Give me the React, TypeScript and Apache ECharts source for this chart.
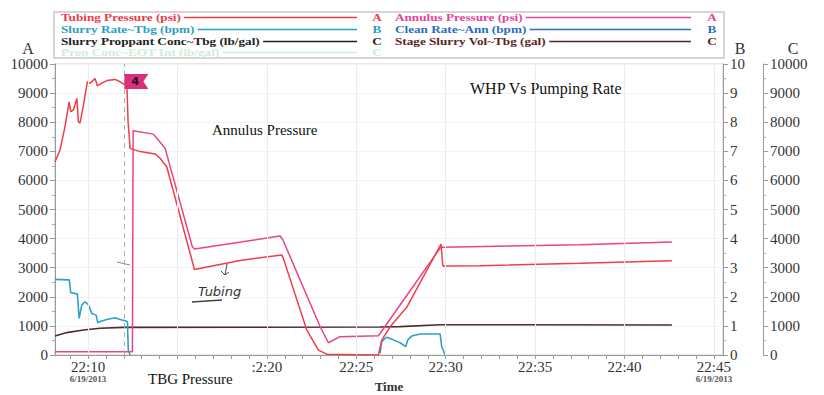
import React, { useEffect, useRef } from 'react';
import * as echarts from 'echarts';

const SERIF = '"Liberation Serif", "Times New Roman", serif';

// ---- axis / tick data ----
const xLabelMinutes = [10, 20, 25, 30, 35, 40, 45];
const xTickMinutes = [9, 10, 11, 12, 13, 14, 15, 16, 17, 18, 19, 20, 21, 22, 23, 24, 25, 26, 27, 28, 29, 30, 31, 32, 33, 34, 35, 36, 37, 38, 39, 40, 41, 42, 43, 44, 45];
const xGridMinutes = [10, 15, 20, 25, 30, 35, 40, 45];
const datedMinutes = [10, 45];
const dateLabel = '6/19/2013';
const stageMarkerMinute = 12.03;
const stageMarkerLabel = '4';

// ---- series data (minutes after 22:00) ----
const tubingTime = [8.15, 8.43, 8.71, 8.94, 9.03, 9.18, 9.37, 9.46, 9.55, 9.74, 9.96, 10.11, 10.26, 10.39, 10.52, 10.77, 11.05, 11.51, 11.79, 12.01, 12.16, 12.24, 12.35, 12.91, 13.75, 14.03, 14.40, 15.95, 18.5, 20.83, 20.92, 22.23, 22.88, 23.35, 26.24, 26.42, 26.89, 27.82, 29.74, 29.84, 31.92, 37.52, 42.65];
const tubingPsi = [6640, 7040, 7850, 8700, 8360, 8420, 8820, 8020, 7970, 8590, 9390, 9340, 9420, 9500, 9250, 9340, 9430, 9470, 9390, 9300, 9450, 8000, 7100, 6990, 6910, 6760, 6470, 2940, 3250, 3440, 3320, 860, 170, 30, 0, 500, 970, 1640, 3810, 3060, 3070, 3150, 3240];

const annulusTime = [8.15, 12.48, 12.52, 13.65, 13.93, 14.31, 15.83, 15.95, 20.74, 20.88, 22.98, 23.44, 24.09, 26.24, 29.74, 29.85, 37.52, 42.65];
const annulusPsi = [115, 115, 7710, 7590, 7390, 7100, 3720, 3640, 4090, 3980, 970, 420, 630, 663, 3720, 3700, 3790, 3880];

const slurryRateTime = [8.15, 8.95, 9.03, 9.40, 9.50, 9.65, 9.83, 10.02, 10.21, 10.45, 10.54, 10.67, 11.05, 11.51, 11.79, 12.07, 12.20, 12.25, 12.35, 20, 26.33, 26.42, 26.70, 27.07, 27.45, 27.77, 27.88, 28.10, 28.57, 29.69, 29.78, 29.97];
const slurryRateBpm = [2.60, 2.58, 2.14, 2.10, 1.26, 1.72, 1.83, 1.72, 1.43, 1.37, 1.11, 1.15, 1.22, 1.28, 1.22, 1.18, 1.14, 0.17, 0, null, 0.06, 0.46, 0.61, 0.52, 0.42, 0.29, 0.52, 0.65, 0.72, 0.72, 0.29, 0];

const stageVolTime = [8.15, 8.81, 9.74, 10.67, 11.97, 26.33, 27.45, 29.69, 42.65];
const stageVolGal = [650, 770, 860, 920, 950, 960, 975, 1040, 1030];

// ---- legend ----
const legendLeft = [
  { name: 'Tubing Pressure (psi)', color: '#ec3b47', axis: 'A' },
  { name: 'Slurry Rate~Tbg (bpm)', color: '#2b9fc3', axis: 'B' },
  { name: 'Slurry Proppant Conc~Tbg (lb/gal)', color: '#222222', axis: 'C' },
  { name: 'Prop Conc~EOT Int (lb/gal)', color: '#cdeed8', axis: 'C' },
];
const legendRight = [
  { name: 'Annulus Pressure (psi)', color: '#e8439a', axis: 'A' },
  { name: 'Clean Rate~Ann (bpm)', color: '#2a6ec1', axis: 'B' },
  { name: 'Stage Slurry Vol~Tbg (gal)', color: '#5b2424', axis: 'C' },
];

const zip = (t: number[], v: (number | null)[]) => t.map((x, i) => [x, v[i]]);

export default function App() {
  const ref = useRef<HTMLDivElement>(null);
  useEffect(() => {
    const chart = echarts.init(ref.current!, null, { renderer: 'svg' });
    const ctx = document.createElement('canvas').getContext('2d')!;
    const legendSize = 11;
    const legendScale = 1.2;
    const legendFont = `bold ${legendSize}px ${SERIF}`;
    ctx.font = legendFont;
    const rowsY = [17.5, 29.5, 41.5, 52.5];
    const legendEls: any[] = [
      { type: 'rect', shape: { x: 54, y: 12, width: 670, height: 46 }, style: { fill: '#fff', stroke: '#c8c8c8', lineWidth: 1.5 }, z: 10 },
    ];
    const addCol = (items: any[], x0: number, lineEnd: number, letterX: number) => {
      items.forEach((it, i) => {
        const y = rowsY[i];
        const w = ctx.measureText(it.name).width * legendScale;
        legendEls.push({
          type: 'text', z: 11, x: x0, y, scaleX: legendScale,
          style: { text: it.name, x: 0, y: 0, fill: it.color, font: legendFont, textVerticalAlign: 'middle', verticalAlign: 'middle' },
        });
        legendEls.push({
          type: 'line', z: 11,
          shape: { x1: x0 + w + 3, y1: y, x2: lineEnd, y2: y },
          style: { stroke: it.color, lineWidth: 1.5 },
        });
        legendEls.push({
          type: 'text', z: 11, x: letterX, y, scaleX: legendScale,
          style: { text: it.axis, x: 0, y: 0, fill: it.color, font: legendFont, textAlign: 'center', align: 'center', textVerticalAlign: 'middle', verticalAlign: 'middle' },
        });
      });
    };
    addCol(legendLeft, 61, 357, 377);
    addCol(legendRight, 395, 691, 712);

    const annot = (text: string, x: number, y: number, size: number) => ({
      type: 'text', z: 5,
      style: { text, x, y, fill: '#111', font: `${size}px ${SERIF}`, textVerticalAlign: 'middle', verticalAlign: 'middle' },
    });

    const axisText = { fontFamily: SERIF, fontSize: 15, color: '#333' };

    const yAxisBase = (extra: any) => ({
      type: 'value',
      nameLocation: 'end',
      nameGap: 8,
      axisLine: { show: true, lineStyle: { color: '#9a9a9a' } },
      axisTick: { show: true, length: 5, lineStyle: { color: '#9a9a9a' } },
      minorTick: { show: true, splitNumber: 2, length: 3, lineStyle: { color: '#aaa' } },
      axisLabel: { ...axisText, margin: 7, formatter: (v: number) => String(v) },
      ...extra,
    });

    const option: any = {
      animation: false,
      backgroundColor: '#fff',
      grid: { left: 55, right: 101, top: 64, bottom: 40, show: true, borderColor: '#cfcfcf', borderWidth: 1, containLabel: false, outerBoundsMode: 'none' },
      xAxis: {
        type: 'value',
        min: 8.15,
        max: 45.51,
        name: 'Time',
        nameLocation: 'middle',
        nameGap: 25,
        nameMoveOverlap: false,
        nameTextStyle: { fontFamily: SERIF, fontSize: 13, fontWeight: 'bold', color: '#333' },
        axisLine: { show: true, onZero: false, lineStyle: { color: '#9a9a9a' } },
        axisTick: { show: true, length: 4, customValues: xTickMinutes, lineStyle: { color: '#9a9a9a' } },
        splitLine: { show: false },
        axisLabel: {
          customValues: xLabelMinutes,
          margin: 5,
          formatter: (v: number) => {
            const m = Math.round(v);
            const main = m === 20 ? ':2:20' : `22:${m}`;
            return datedMinutes.includes(m) ? `{t|${main}}\n{d|${dateLabel}}` : `{t|${main}}`;
          },
          rich: {
            t: { fontFamily: SERIF, fontSize: 15, color: '#333', lineHeight: 14 },
            d: { fontFamily: SERIF, fontSize: 9, fontWeight: 'bold', color: '#555', lineHeight: 10 },
          },
        },
      },
      yAxis: [
        yAxisBase({
          name: 'A', min: 0, max: 10000, interval: 1000, position: 'left',
          nameTextStyle: { ...axisText, fontSize: 16, padding: [0, 54, 0, 0] },
          splitLine: { show: true, lineStyle: { color: '#f2f2f2' } },
        }),
        yAxisBase({
          name: 'B', min: 0, max: 10, interval: 1, position: 'right', offset: 0,
          nameTextStyle: { ...axisText, fontSize: 16, padding: [0, 0, 0, 34] },
          splitLine: { show: false },
        }),
        yAxisBase({
          name: 'C', min: 0, max: 10000, interval: 1000, position: 'right', offset: 40,
          nameTextStyle: { ...axisText, fontSize: 16, padding: [0, 0, 0, 60] },
          splitLine: { show: false },
        }),
      ],
      series: [
        {
          name: 'grid5', type: 'line', data: [], silent: true,
          markLine: {
            silent: true, symbol: 'none', label: { show: false },
            lineStyle: { color: '#ececec', type: 'solid', width: 1 },
            data: xGridMinutes.map((m) => ({ xAxis: m })),
          },
        },
        {
          name: 'Stage Slurry Vol~Tbg (gal)', type: 'line', yAxisIndex: 2, showSymbol: false,
          data: zip(stageVolTime, stageVolGal),
          lineStyle: { color: '#4e2b31', width: 1.6 }, itemStyle: { color: '#4e2b31' },
        },
        {
          name: 'Slurry Rate~Tbg (bpm)', type: 'line', yAxisIndex: 1, showSymbol: false, connectNulls: false,
          data: zip(slurryRateTime, slurryRateBpm),
          lineStyle: { color: '#2ba2c6', width: 1.6 }, itemStyle: { color: '#2ba2c6' },
        },
        {
          name: 'Annulus Pressure (psi)', type: 'line', yAxisIndex: 0, showSymbol: false,
          data: zip(annulusTime, annulusPsi),
          lineStyle: { color: '#e8438c', width: 1.5 }, itemStyle: { color: '#e8438c' },
        },
        {
          name: 'Tubing Pressure (psi)', type: 'line', yAxisIndex: 0, showSymbol: false,
          data: zip(tubingTime, tubingPsi),
          lineStyle: { color: '#ef3e45', width: 1.5 }, itemStyle: { color: '#ef3e45' },
          markLine: {
            silent: true, symbol: 'none', label: { show: false },
            lineStyle: { color: '#b0b0b0', type: [5, 4], width: 1 },
            data: [{ xAxis: stageMarkerMinute }],
          },
          markPoint: {
            silent: true,
            data: [{ coord: [stageMarkerMinute, 9400] }],
            symbol: 'path://M0,0L24,0L19,7.5L24,15L0,15Z',
            symbolSize: [24, 15],
            symbolKeepAspect: false,
            symbolOffset: [12, 0],
            itemStyle: { color: '#d8317c' },
            label: { show: true, formatter: stageMarkerLabel, position: 'inside', offset: [-1, 0], color: '#2a0a1a', fontWeight: 'bold', fontSize: 11, fontFamily: 'DejaVu Sans' },
          },
        },
      ],
      graphic: [
        ...legendEls,
        annot('WHP Vs Pumping Rate', 470, 88, 16),
        annot('Annulus Pressure', 212, 130, 15),
        annot('TBG Pressure', 148, 379, 15),
        {
          type: 'text', z: 5,
          style: { text: 'Tubing', x: 198, y: 291, fill: '#333', font: `italic 13px "DejaVu Sans"`, textVerticalAlign: 'middle', verticalAlign: 'middle' },
        },
        { type: 'line', z: 5, shape: { x1: 192, y1: 302, x2: 222, y2: 300 }, style: { stroke: '#444', lineWidth: 1.5 } },
        { type: 'polyline', z: 5, shape: { points: [[227, 264], [225, 275]] }, style: { stroke: '#444', lineWidth: 1, fill: 'none' } },
        { type: 'polyline', z: 5, shape: { points: [[221, 271], [225, 275], [229, 272]] }, style: { stroke: '#444', lineWidth: 1, fill: 'none' } },
        { type: 'line', z: 5, shape: { x1: 117, y1: 262, x2: 130, y2: 265 }, style: { stroke: '#888', lineWidth: 1 } },
      ],
    };
    chart.setOption(option);
    return () => chart.dispose();
  }, []);
  return <div ref={ref} style={{ position: 'absolute', left: 0, top: 0, width: 824, height: 395, background: '#fff' }} />;
}
